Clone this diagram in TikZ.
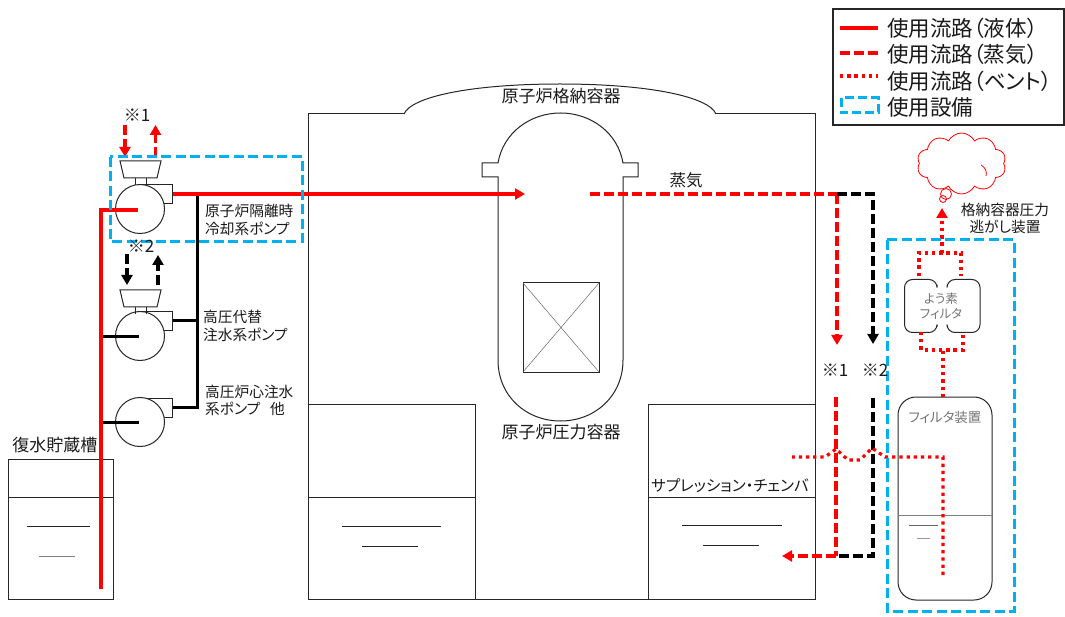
\documentclass[tikz,border=0pt]{standalone}
\usepackage{fontspec}
\usepackage{xcolor}
\usepackage{tikz}
\usetikzlibrary{arrows.meta,shapes.symbols}
\setmainfont{Noto Sans CJK JP}[RawFeature=+palt]
\definecolor{EquipBlue}{RGB}{0,176,240}
\tikzset{
    Liquid/.style = {red,line width=3.5pt},
    Steam/.style = {red,line width=3.2pt,dash pattern=on 10pt off 4pt},
    Vent/.style = {red,line width=3.2pt,dash pattern=on 3.3pt off 3.9pt},
    SteamB/.style = {black,line width=3.2pt,dash pattern=on 10pt off 4pt},
    Pipe/.style = {black,line width=3pt},
    Equip/.style = {EquipBlue,line width=3pt,dash pattern=on 10pt off 4.5pt},
    Tip/.style = {-{Triangle[length=10pt,width=11pt]}},
    Thin/.style = {line width=1pt,black!85},
    Pump/.style = {circle,draw=black!85,line width=1pt,fill=white,inner sep=0pt,minimum size=49pt},
    Label/.style = {inner sep=0pt,font=\fontsize{14.7}{16}\selectfont,text=black!90},
    LabelL/.style = {Label,anchor=west},
    LabelB/.style = {Label,font=\fontsize{17}{19}\selectfont},
    LabelG/.style = {Label,text=black!55,font=\fontsize{12.5}{14}\selectfont},
    Legend/.style = {inner sep=0pt,anchor=west,font=\fontsize{21.5}{23}\selectfont,text=black!90}
}
\begin{document}
\begin{tikzpicture}[x=1pt,y=-1pt]
    \useasboundingbox (0,0) rectangle (1065,617);
    % containment
    \draw[Thin] (404,114) -- (308,114) -- (308,599) -- (815,599) -- (815,114) -- (716,114);
    \draw[Thin] (404,114) .. controls (411,97) and (470,84) .. (560,84) .. controls (650,84) and (709,97) .. (716,114);
    % wetwell
    \draw[Thin] (308,404) -- (475,404) -- (475,599);
    \draw[Thin] (815,404) -- (648,404) -- (648,599);
    \draw[Thin] (308,497) -- (475,497);
    \draw[Thin] (648,497) -- (815,497);
    \draw[Thin] (342,526) -- (441,526);
    \draw[Thin] (362,546) -- (418,546);
    \draw[Thin] (682,525) -- (782,525);
    \draw[Thin] (703,545) -- (759,545);
    % vessel
    \draw[Thin,fill=white] (498,360) -- (498,177) -- (482,177) -- (482,163) -- (498,163)
        .. controls (503,133) and (530,113) .. (560.5,113) .. controls (591,113) and (618,133) .. (623,163)
        -- (638,163) -- (638,177) -- (623,177) -- (623,360)
        .. controls (623,396) and (595,421) .. (560.5,421) .. controls (526,421) and (498,396) .. (498,360);
    \draw[Thin] (523,283) rectangle (599,372);
    \draw[line width=0.5pt,black!60] (523,283) -- (599,372) (599,283) -- (523,372);
    % tank
    \draw[Thin] (8,459) rectangle (113,599);
    \draw[Thin] (8,497) -- (113,497);
    \draw[Thin] (27,526) -- (90,526);
    \draw[line width=0.6pt,black!50] (39,556) -- (75,556);
    % pumps
    \foreach \X/\Y in {A/209,B/336,C/422}
        {\draw[Thin] (140,\Y-24) -- (172.5,\Y-24) -- (172.5,\Y-5) -- (155,\Y-5);
         \node[Pump] (Pump\X) at (140,\Y) {};}
    \foreach \Y in {161,290}
        {\draw[Thin] (120,\Y) -- (161,\Y) -- (157,\Y+17) -- (124,\Y+17) -- cycle;
         \draw[Thin] (135,\Y+17) -- (135,\Y+24) (146,\Y+17) -- (146,\Y+24);}
    % piping
    \coordinate (TankEnd) at (101,589);
    \coordinate (HdrA) at (101,210);
    \coordinate (HdrB) at (101,337);
    \coordinate (HdrC) at (101,422);
    \coordinate (InA) at (138,210);
    \coordinate (InB) at (139,337);
    \coordinate (InC) at (139,422);
    \coordinate (OutA) at (173,194);
    \coordinate (OutB) at (173,321);
    \coordinate (OutC) at (173,407);
    \coordinate (DisA) at (197,194);
    \coordinate (DisB) at (197,321);
    \coordinate (DisC) at (197,407);
    \coordinate (RpvIn) at (525,194);
    \draw[Pipe] (HdrB) -- (InB);
    \draw[Pipe] (HdrC) -- (InC);
    \draw[Pipe] (OutB) -- (DisB);
    \draw[Pipe] (OutC) -- (DisC) -- (DisA);
    \draw[Liquid] (TankEnd) -- (HdrA) -- (InA);
    \draw[Liquid,Tip] (OutA) -- (RpvIn);
    % steam lines
    \coordinate (RpvOut) at (590,194);
    \coordinate (TeeA) at (837,194);
    \coordinate (CornerA) at (873,194);
    \coordinate (DownA) at (837,345);
    \coordinate (DownB) at (873,344);
    \coordinate (UpA) at (836,397);
    \coordinate (UpB) at (873,398);
    \coordinate (TeeB) at (836,556);
    \coordinate (CornerB) at (873,556);
    \coordinate (SpIn) at (782,556);
    \draw[Steam] (RpvOut) -- (TeeA);
    \draw[Steam,Tip] (TeeA) -- (DownA);
    \draw[SteamB,Tip] (TeeA) -- (CornerA) -- (DownB);
    \draw[Steam] (UpA) -- (TeeB);
    \draw[Steam,Tip] (TeeB) -- (SpIn);
    \draw[SteamB] (UpB) -- (CornerB) -- (TeeB);
    \coordinate (TurbAin) at (125,125);
    \coordinate (TurbAinEnd) at (125,157);
    \coordinate (TurbAout) at (155.5,157);
    \coordinate (TurbAoutEnd) at (155.5,125);
    \coordinate (TurbBin) at (127,254);
    \coordinate (TurbBinEnd) at (127,285);
    \coordinate (TurbBout) at (158,285);
    \coordinate (TurbBoutEnd) at (158,255);
    \draw[Steam,Tip] (TurbAin) -- (TurbAinEnd);
    \draw[Steam,Tip] (TurbAout) -- (TurbAoutEnd);
    \draw[SteamB,Tip] (TurbBin) -- (TurbBinEnd);
    \draw[SteamB,Tip] (TurbBout) -- (TurbBoutEnd);
    % filter vessel
    \draw[Thin,rounded corners=18pt] (898,397) rectangle (992,600);
    \draw[line width=1pt,black!50] (898,515) -- (992,515);
    \draw[line width=0.6pt,black!60] (909,525) -- (938,525);
    \draw[line width=0.6pt,black!40] (917,538) -- (930,538);
    % iodine filter
    \draw[Thin,rounded corners=8pt] (937,285) -- (937,279.5) -- (904.5,279.5) -- (904.5,332.5) -- (937,332.5) -- (937,327);
    \draw[Thin,rounded corners=8pt] (947,285) -- (947,279.5) -- (980,279.5) -- (980,332.5) -- (947,332.5) -- (947,327);
    % vent
    \coordinate (VentStart) at (792,457);
    \coordinate (VentTee) at (943,457);
    \coordinate (VentEnd) at (943,575);
    \coordinate (FilOut) at (943,397);
    \coordinate (FilIn) at (943,350);
    \coordinate (StackTop) at (942,208);
    \coordinate (StackTee) at (942,253);
    \coordinate (StackHead) at (942,218);
    \draw[Vent] (VentEnd) -- (VentTee) -- (885,457) -- (872,448) -- (860,460) -- (848,460) -- (836,449) -- (825,457) -- (VentStart);
    \draw[Vent] (FilOut) -- (FilIn);
    \draw[Vent] (921,332) -- (921,350) -- (963,350) -- (963,332);
    \draw[Vent] (919,276) -- (919,253) -- (961,253) -- (961,276);
    \draw[Vent] (StackTee) -- (StackHead);
    \draw[red,Tip,line width=3.2pt] (StackHead) -- (StackTop);
    % cloud
    \node[cloud,cloud puffs=10,cloud puff arc=125,draw=red,line width=0.8pt,aspect=1.5,inner sep=0pt,minimum width=89pt,minimum height=61pt] (Cloud) at (961.5,163.5) {};
    \draw[red,line width=0.8pt] (981,165) .. controls (986,168) and (987,172) .. (986,176);
    \node[circle,draw=red,line width=0.8pt,inner sep=0pt,minimum size=11pt] (CloudA) at (946,194) {};
    \node[circle,draw=red,line width=0.8pt,inner sep=0pt,minimum size=7pt] (CloudB) at (943,199) {};
    % equipment boxes
    \draw[Equip] (110,157) rectangle (302,242);
    \draw[Equip] (887,240) rectangle (1014,611);
    % labels
    \node[LabelB] (LblPcv) at (561,96) {原子炉格納容器};
    \node[LabelB] (LblRpv) at (561,432) {原子炉圧力容器};
    \node[LabelB,font=\fontsize{16.5}{18}\selectfont] (LblSteam) at (686,180) {蒸気};
    \node[Label,font=\fontsize{15.5}{17}\selectfont] (LblSc) at (730,486) {サプレッション・チェンバ};
    \node[LabelB] (LblTank) at (55,445) {復水貯蔵槽};
    \node[LabelL] (LblRcicA) at (205,211) {原子炉隔離時};
    \node[LabelL] (LblRcicB) at (205,229) {冷却系ポンプ};
    \node[LabelL] (LblHpacA) at (203,317) {高圧代替};
    \node[LabelL] (LblHpacB) at (203,335) {注水系ポンプ};
    \node[LabelL] (LblHpcsA) at (205,392) {高圧炉心注水};
    \node[LabelL] (LblHpcsB) at (205,409) {系ポンプ\ \ \ 他};
    \node[Label] (LblVentA) at (1005,210) {格納容器圧力};
    \node[Label] (LblVentB) at (1005,227) {逃がし装置};
    \node[LabelG] (LblIodA) at (941,299) {よう素};
    \node[LabelG] (LblIodB) at (941,314) {フィルタ};
    \node[LabelG,font=\fontsize{13.5}{15}\selectfont] (LblFil) at (945,417) {フィルタ装置};
    \node[LabelB] (MarkA) at (137,115) {※1};
    \node[LabelB] (MarkB) at (141,246) {※2};
    \node[LabelB] (MarkC) at (835,370) {※1};
    \node[LabelB] (MarkD) at (875,370) {※2};
    % legend
    \draw[line width=1.2pt,black!85,fill=white] (833,9) rectangle (1064,125);
    \coordinate (LegA) at (840,28);
    \coordinate (LegAe) at (878,28);
    \coordinate (LegB) at (840,53);
    \coordinate (LegBe) at (878,53);
    \coordinate (LegC) at (840,76);
    \coordinate (LegCe) at (878,76);
    \draw[Liquid] (LegA) -- (LegAe);
    \draw[Steam] (LegB) -- (LegBe);
    \draw[Vent] (LegC) -- (LegCe);
    \draw[Equip,dash pattern=on 9pt off 4pt] (841,98) rectangle (878,113);
    \node[Legend] (LegTxtA) at (887,28) {使用流路（液体）};
    \node[Legend] (LegTxtB) at (887,54) {使用流路（蒸気）};
    \node[Legend] (LegTxtC) at (887,81) {使用流路（ベント）};
    \node[Legend] (LegTxtD) at (887,107) {使用設備};
\end{tikzpicture}
\end{document}
